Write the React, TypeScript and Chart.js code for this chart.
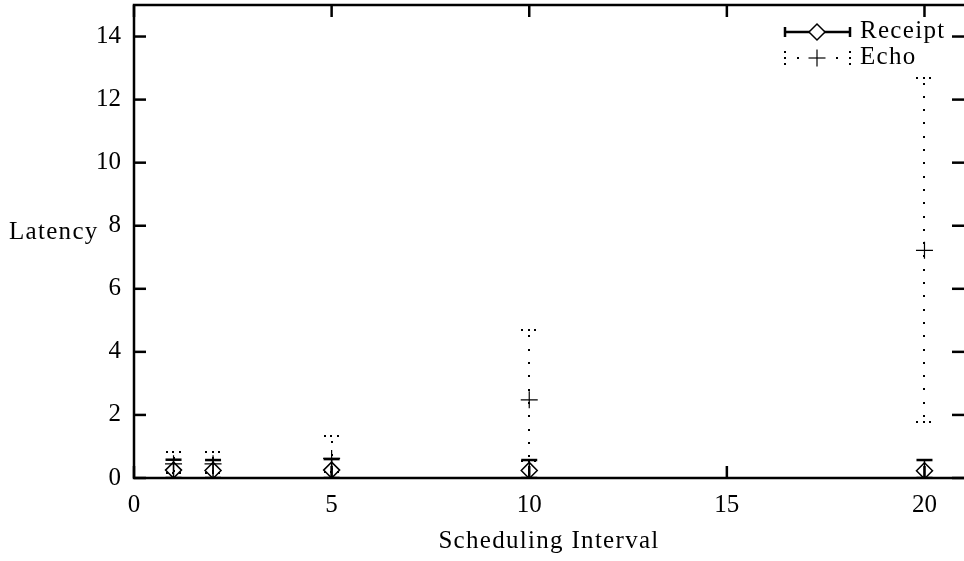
import { useEffect, useRef } from 'react';
import { Chart, registerables } from 'chart.js';

Chart.register(...registerables);

// ---- data ----
const X_VALUES = [1, 2, 5, 10, 20];
const RECEIPT_MEAN = [0.25, 0.24, 0.25, 0.24, 0.23];
const RECEIPT_LOW = [0, 0, 0, 0, 0];
const RECEIPT_HIGH = [0.58, 0.57, 0.6, 0.57, 0.57];
const ECHO_MEAN = [0.45, 0.45, 0.62, 2.48, 7.22];
const ECHO_LOW = [0.15, 0.15, 0.2, 0.55, 1.79];
const ECHO_HIGH = [0.83, 0.83, 1.33, 4.68, 12.7];
const X_TICKS = [0, 5, 10, 15, 20];
const Y_TICKS = [0, 2, 4, 6, 8, 10, 12, 14];
const X_MIN = 0;
const X_MAX = 21;
const Y_MIN = 0;
const Y_MAX = 15;
const SERIES_LABELS = ['Receipt', 'Echo'];
const X_TITLE = 'Scheduling Interval';
const Y_TITLE = 'Latency';

const FONT = '"Liberation Serif", "Times New Roman", serif';
const FONT_SIZE = 25;

function dotsV(ctx: CanvasRenderingContext2D, x: number, yTop: number, yBot: number, step: number) {
  for (let y = yTop; y <= yBot + 0.5; y += step) {
    ctx.fillRect(Math.round(x) - 1, Math.round(y) - 1, 2, 2);
  }
}
function dotsH(ctx: CanvasRenderingContext2D, xc: number, y: number) {
  for (const dx of [-7, -0.5, 6]) {
    ctx.fillRect(Math.round(xc + dx) - 1, Math.round(y) - 1, 2, 2);
  }
}
function seg(ctx: CanvasRenderingContext2D, x1: number, y1: number, x2: number, y2: number) {
  ctx.beginPath();
  ctx.moveTo(x1, y1);
  ctx.lineTo(x2, y2);
  ctx.stroke();
}

const gnuplotPlugin = {
  id: 'gnuplotLook',
  beforeDatasetsDraw(chart: any) {
    const ctx: CanvasRenderingContext2D = chart.ctx;
    const xs = chart.scales.x;
    const ys = chart.scales.y;
    const a = chart.chartArea;
    ctx.save();
    ctx.beginPath();
    ctx.rect(a.left, a.top, a.right - a.left, a.bottom - a.top);
    ctx.clip();
    ctx.strokeStyle = '#000';
    ctx.fillStyle = '#000';
    // Receipt error bars (solid)
    X_VALUES.forEach((xv, i) => {
      const px = xs.getPixelForValue(xv);
      const lo = ys.getPixelForValue(RECEIPT_LOW[i]);
      const hi = ys.getPixelForValue(RECEIPT_HIGH[i]);
      ctx.lineWidth = 1.5;
      seg(ctx, px, lo, px, hi);
      ctx.lineWidth = 2.5;
      seg(ctx, px - 8, hi, px + 8, hi);
      seg(ctx, px - 8, lo, px + 8, lo);
    });
    // Echo error bars (dotted)
    X_VALUES.forEach((xv, i) => {
      const px = xs.getPixelForValue(xv);
      const lo = ys.getPixelForValue(ECHO_LOW[i]);
      const hi = ys.getPixelForValue(ECHO_HIGH[i]);
      dotsV(ctx, px, hi + 6, lo, 13.3);
      dotsH(ctx, px, hi);
      dotsH(ctx, px, lo);
    });
    ctx.restore();
  },
  afterDraw(chart: any) {
    const ctx: CanvasRenderingContext2D = chart.ctx;
    const xs = chart.scales.x;
    const ys = chart.scales.y;
    const a = chart.chartArea;
    ctx.save();
    ctx.strokeStyle = '#000';
    ctx.fillStyle = '#000';
    ctx.lineWidth = 2.5;
    // border: left, top, bottom
    ctx.beginPath();
    ctx.moveTo(a.right + 2, a.top);
    ctx.lineTo(a.left, a.top);
    ctx.lineTo(a.left, a.bottom);
    ctx.lineTo(a.right + 2, a.bottom);
    ctx.stroke();
    // ticks (inward, mirrored)
    const TL = 12;
    X_TICKS.forEach((v) => {
      const px = xs.getPixelForValue(v);
      seg(ctx, px, a.bottom, px, a.bottom - TL);
      seg(ctx, px, a.top, px, a.top + TL);
    });
    Y_TICKS.forEach((v) => {
      const py = ys.getPixelForValue(v);
      seg(ctx, a.left, py, a.left + TL, py);
      seg(ctx, a.right, py, a.right - TL, py);
    });
    // titles
    ctx.font = `${FONT_SIZE}px ${FONT}`;
    (ctx as any).letterSpacing = '1.3px';
    ctx.textBaseline = 'alphabetic';
    ctx.textAlign = 'center';
    ctx.fillText(X_TITLE, (a.left + a.right) / 2, 548);
    ctx.textAlign = 'left';
    ctx.fillText(Y_TITLE, 9, 239);
    // legend
    ctx.fillText(SERIES_LABELS[0], 860, 38);
    ctx.fillText(SERIES_LABELS[1], 860, 64);
    (ctx as any).letterSpacing = '0px';
    // Receipt sample
    const ly1 = 32;
    ctx.lineWidth = 2.5;
    seg(ctx, 785, ly1, 850, ly1);
    seg(ctx, 785, ly1 - 5, 785, ly1 + 5);
    seg(ctx, 850, ly1 - 5, 850, ly1 + 5);
    ctx.lineWidth = 1.5;
    ctx.fillStyle = '#fff';
    ctx.beginPath();
    ctx.moveTo(817 - 8, ly1);
    ctx.lineTo(817, ly1 - 8);
    ctx.lineTo(817 + 8, ly1);
    ctx.lineTo(817, ly1 + 8);
    ctx.closePath();
    ctx.fill();
    ctx.stroke();
    // Echo sample
    ctx.fillStyle = '#000';
    const ly2 = 58;
    for (const dy of [-6, 0, 6]) {
      ctx.fillRect(784, ly2 + dy - 1, 2, 2);
      ctx.fillRect(849, ly2 + dy - 1, 2, 2);
    }
    ctx.fillRect(797, ly2 - 1, 2, 2);
    ctx.fillRect(836, ly2 - 1, 2, 2);
    ctx.lineWidth = 1.2;
    seg(ctx, 817 - 8.5, ly2, 817 + 8.5, ly2);
    seg(ctx, 817, ly2 - 8.5, 817, ly2 + 8.5);
    ctx.restore();
  },
};

export default function App() {
  const ref = useRef<HTMLCanvasElement>(null);
  useEffect(() => {
    if (!ref.current) return;
    const chart = new Chart(ref.current, {
      type: 'scatter',
      data: {
        datasets: [
          {
            label: SERIES_LABELS[0],
            data: X_VALUES.map((x, i) => ({ x, y: RECEIPT_MEAN[i] })),
            pointStyle: 'rectRot',
            pointRadius: 8,
            pointBorderWidth: 1.5,
            pointBorderColor: '#000',
            pointBackgroundColor: 'rgba(0,0,0,0)',
            showLine: false,
          },
          {
            label: SERIES_LABELS[1],
            data: X_VALUES.map((x, i) => ({ x, y: ECHO_MEAN[i] })),
            pointStyle: 'cross',
            pointRadius: 8.5,
            pointBorderWidth: 1.2,
            pointBorderColor: '#000',
            pointBackgroundColor: 'rgba(0,0,0,0)',
            showLine: false,
          },
        ],
      },
      options: {
        animation: false,
        responsive: false,
        maintainAspectRatio: false,
        layout: { autoPadding: false, padding: { top: 5, left: 0, right: 0, bottom: 0 } },
        plugins: { legend: { display: false }, tooltip: { enabled: false } },
        scales: {
          x: {
            type: 'linear',
            min: X_MIN,
            max: X_MAX,
            afterBuildTicks: (s: any) => {
              s.ticks = X_TICKS.map((v) => ({ value: v }));
            },
            afterFit: (s: any) => {
              s.height = 83;
              s.paddingLeft = 0;
              s.paddingRight = 0;
              s.paddingTop = 0;
              s.paddingBottom = 0;
            },
            grid: { display: false, drawTicks: false },
            border: { display: false },
            ticks: {
              padding: 12,
              color: '#000',
              font: { family: FONT, size: FONT_SIZE },
              maxRotation: 0,
              autoSkip: false,
            },
          },
          y: {
            type: 'linear',
            min: Y_MIN,
            max: Y_MAX,
            afterBuildTicks: (s: any) => {
              s.ticks = Y_TICKS.map((v) => ({ value: v }));
            },
            afterFit: (s: any) => {
              s.width = 134;
              s.paddingLeft = 0;
              s.paddingRight = 0;
              s.paddingTop = 0;
              s.paddingBottom = 0;
            },
            grid: { display: false, drawTicks: false },
            border: { display: false },
            ticks: {
              padding: 13,
              color: '#000',
              font: { family: FONT, size: FONT_SIZE },
              autoSkip: false,
            },
          },
        },
      },
      plugins: [gnuplotPlugin],
    });
    return () => chart.destroy();
  }, []);
  return (
    <div style={{ position: 'fixed', left: 0, top: 0, width: 964, height: 561, background: '#fff' }}>
      <canvas ref={ref} width={964} height={561} style={{ display: 'block' }} />
    </div>
  );
}
